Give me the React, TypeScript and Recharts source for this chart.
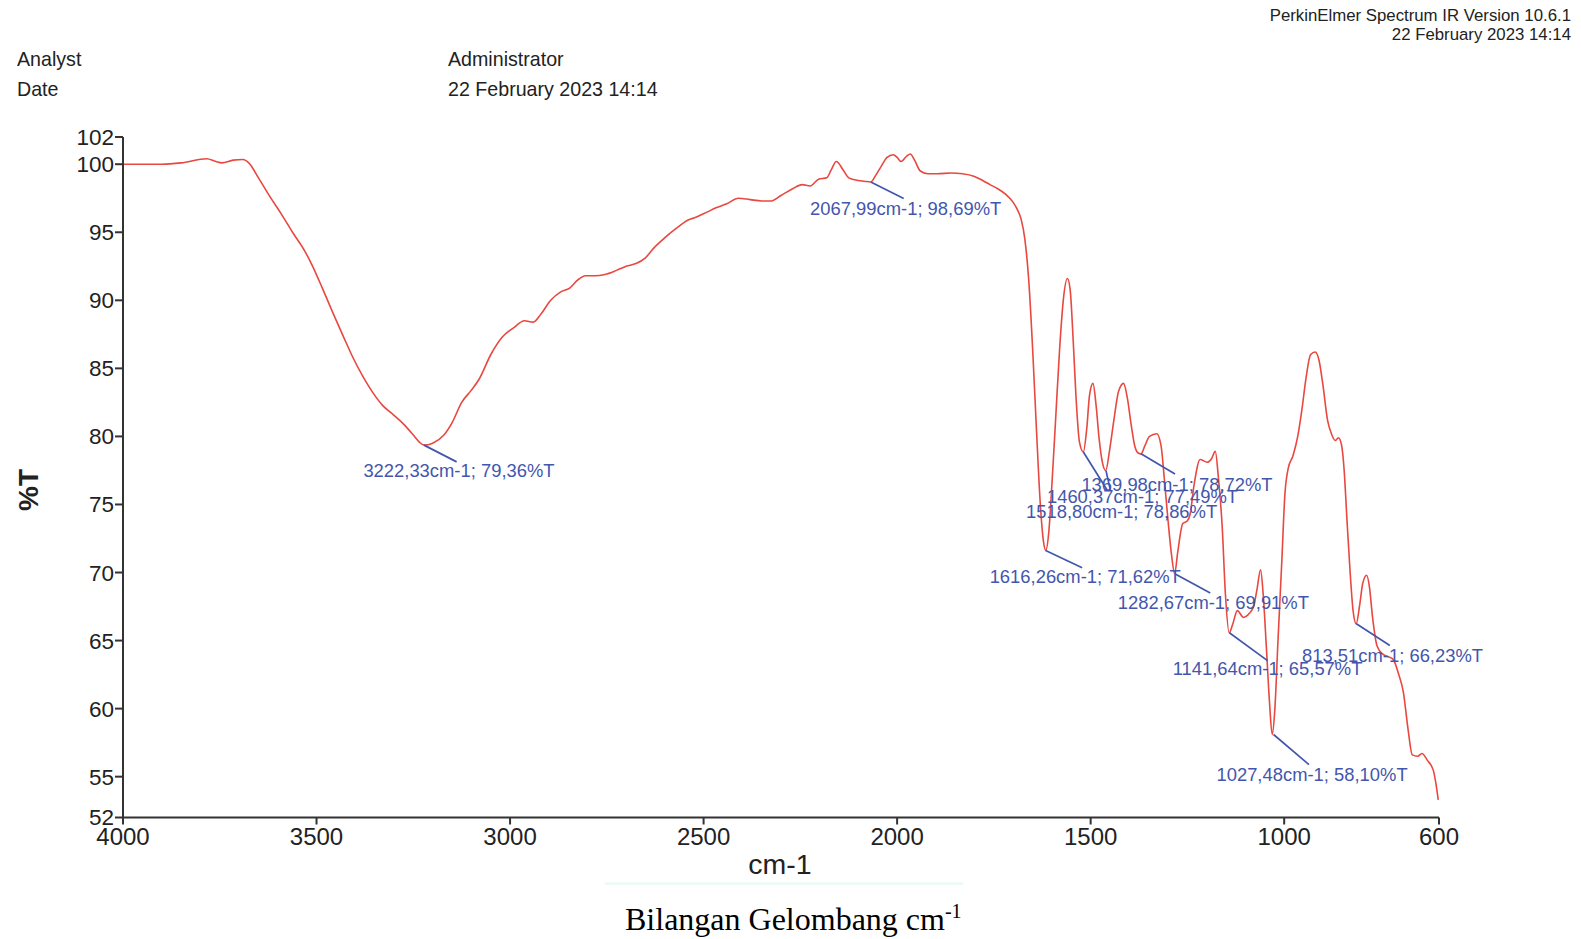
import { LineChart, Line, XAxis, YAxis, ReferenceLine, ReferenceDot } from 'recharts'

const W = 1581
const H = 939

// wavenumber (cm-1) and transmittance (%T)
const wavenumber = [
  4000, 3900, 3850, 3784, 3760, 3745, 3715, 3690, 3675, 3650, 3620, 3590, 3562, 3530, 3510, 3485,
  3458, 3430, 3406, 3380, 3354, 3330, 3302, 3275, 3250, 3235, 3222, 3200, 3171, 3150, 3125, 3100,
  3080, 3050, 3020, 2990, 2963, 2940, 2920, 2895, 2870, 2846, 2825, 2805, 2780, 2755, 2725, 2700,
  2675, 2651, 2630, 2600, 2570, 2540, 2520, 2490, 2468, 2440, 2410, 2380, 2350, 2325, 2300, 2270,
  2245, 2225, 2203, 2182, 2170, 2157, 2140, 2125, 2100, 2085, 2068, 2055, 2040, 2026, 2010, 2000,
  1990, 1975, 1966, 1955, 1940, 1920, 1896, 1860, 1831, 1800, 1779, 1760, 1740, 1720, 1700, 1690,
  1680, 1670, 1660, 1650, 1640, 1630, 1622, 1616, 1608, 1600, 1590, 1580, 1570, 1560, 1553, 1545,
  1538, 1529, 1519, 1510, 1503, 1494, 1486, 1478, 1469, 1461, 1451, 1440, 1428, 1415, 1405, 1396,
  1386, 1378, 1370, 1360, 1348, 1329, 1318, 1310, 1300, 1291, 1283, 1275, 1262, 1250, 1243, 1233,
  1217, 1199, 1187, 1178, 1170, 1160, 1152, 1142, 1133, 1121, 1105, 1090, 1079, 1070, 1061, 1054,
  1046, 1038, 1031, 1024, 1016, 1006, 998, 990, 977, 965, 955, 943, 932, 920, 910, 900, 888, 878,
  868, 860, 852, 845, 838, 830, 822, 814, 805, 797, 787, 780, 772, 760, 745, 730, 718, 705, 692,
  680, 669, 655, 644, 630, 615, 608, 602,
]
const transmittance = [
  100.0, 100.0, 100.1, 100.4, 100.2, 100.1, 100.3, 100.35, 100.1, 99.0, 97.6, 96.3, 95.0, 93.6, 92.5, 90.9,
  89.1, 87.3, 85.8, 84.4, 83.2, 82.3, 81.6, 80.9, 80.1, 79.6, 79.36, 79.5, 80.1, 81.0, 82.5, 83.4,
  84.2, 86.0, 87.3, 88.0, 88.5, 88.4, 89.0, 90.0, 90.6, 90.9, 91.5, 91.8, 91.8, 91.9, 92.2, 92.5,
  92.7, 93.1, 93.8, 94.6, 95.3, 95.9, 96.1, 96.5, 96.8, 97.1, 97.5, 97.4, 97.3, 97.3, 97.7, 98.2,
  98.5, 98.4, 98.9, 99.0, 99.6, 100.2, 99.6, 99.0, 98.8, 98.75, 98.69, 99.2, 99.9, 100.5, 100.7, 100.5,
  100.2, 100.6, 100.75, 100.3, 99.5, 99.3, 99.3, 99.35, 99.3, 99.1, 98.8, 98.5, 98.2, 97.8, 97.2, 96.7,
  96.0, 94.5, 91.5, 86.5, 80.5, 75.0, 72.3, 71.62, 73.0, 76.5, 81.5, 86.5, 90.2, 91.6, 90.8, 87.0,
  83.0, 79.6, 78.86, 80.6, 83.0, 83.9, 82.3, 79.8, 78.0, 77.49, 79.0, 81.2, 83.3, 83.9, 82.8, 81.0,
  79.3, 78.8, 78.72, 79.3, 80.0, 80.2, 79.3, 77.0, 73.8, 71.3, 69.91, 71.5, 73.6, 73.8, 74.3, 76.4,
  78.3, 78.1, 78.4, 78.9, 77.0, 73.3, 68.5, 65.57, 66.2, 67.2, 66.7, 67.0, 67.5, 68.8, 70.2, 68.3,
  64.5, 60.5, 58.1, 60.0, 65.0, 70.9, 75.8, 77.6, 78.6, 80.0, 81.8, 84.4, 86.0, 86.2, 85.6, 83.8, 81.2, 80.2,
  79.7, 79.9, 79.4, 77.5, 74.0, 70.2, 67.2, 66.23, 67.6, 69.2, 69.8, 69.0, 66.8, 64.6, 64.0, 63.8, 63.6, 62.6, 61.2,
  58.5, 56.6, 56.5, 56.7, 56.2, 55.5, 54.5, 53.3,
]

const spectrum = wavenumber.map((x, i) => ({ x, t: transmittance[i] }))

const xTicks = [4000, 3500, 3000, 2500, 2000, 1500, 1000, 600]
const yTicks = [52, 55, 60, 65, 70, 75, 80, 85, 90, 95, 100, 102]

// peak picks: position of the peak, end of leader line, centre of the label
const peakWn = [2067.99, 3222.33, 1369.98, 1460.37, 1518.8, 1616.26, 1282.67, 1141.64, 1027.48, 813.51]
const peakT = [98.69, 79.36, 78.72, 77.49, 78.86, 71.62, 69.91, 65.57, 58.1, 66.23]
const leaderWn = [1983, 3138, 1282, 1449, 1457, 1522, 1191, 1043, 936, 727]
const leaderT = [97.48, 78.13, 77.24, 76.05, 76.05, 70.35, 68.49, 63.53, 55.89, 64.64]
const labelWn = [1978, 3132, 1277, 1366, 1420, 1514, 1183, 1043, 928, 720]
const labelT = [96.74, 77.46, 76.5, 75.6, 74.5, 69.68, 67.83, 62.94, 55.15, 63.9]

const fmt = (v: number) => v.toFixed(2).replace('.', ',')

const BLUE = '#4356ad'
const RED = '#e8483f'
const AXIS = '#333333'
const sans = '"Liberation Sans", Arial, sans-serif'

function PeakLabel(props: { cx?: number, cy?: number, text: string }) {
  const { cx = 0, cy = 0, text } = props
  return (
    <text x={cx} y={cy} textAnchor="middle" dominantBaseline="central" fill={BLUE} fontSize={18.4} fontFamily={sans}>
      {text}
    </text>
  )
}

// header text in the reference is a condensed face, squeeze the regular one
const headerStyle = {
  position: 'absolute' as const,
  top: 44,
  fontSize: 21,
  lineHeight: '30px',
  color: '#222',
  transform: 'scaleX(0.935)',
  transformOrigin: 'left top',
  whiteSpace: 'nowrap' as const,
}

export default function App() {
  return (
    <div style={{ position: 'absolute', left: 0, top: 0, width: W, height: H, background: '#fff', fontFamily: sans }}>
      <div style={{ position: 'absolute', right: 10, top: 6, textAlign: 'right', fontSize: 16.8, lineHeight: '19px', color: '#222' }}>
        <div>PerkinElmer Spectrum IR Version 10.6.1</div>
        <div>22 February 2023 14:14</div>
      </div>
      <div style={{ ...headerStyle, left: 17 }}>
        <div>Analyst</div>
        <div>Date</div>
      </div>
      <div style={{ ...headerStyle, left: 448 }}>
        <div>Administrator</div>
        <div>22 February 2023 14:14</div>
      </div>

      <LineChart width={W} height={H} data={spectrum} margin={{ top: 137, right: 142, bottom: 81.5, left: 63 }}>
        <XAxis
          dataKey="x"
          type="number"
          domain={[600, 4000]}
          reversed
          ticks={xTicks}
          interval={0}
          height={40}
          tick={{ fontSize: 24, fill: '#222', fontFamily: sans }}
          tickSize={7}
          tickMargin={3}
          stroke={AXIS}
          strokeWidth={2}
        />
        <YAxis
          type="number"
          domain={[52, 102]}
          ticks={yTicks}
          interval={0}
          width={60}
          allowDataOverflow
          tick={{ fontSize: 22.5, fill: '#222', fontFamily: sans }}
          tickSize={8}
          tickMargin={1}
          stroke={AXIS}
          strokeWidth={2}
        />
        <Line dataKey="t" type="monotone" stroke={RED} strokeWidth={1.6} dot={false} isAnimationActive={false} />
        {peakWn.map((w, i) => (
          <ReferenceLine
            key={'l' + i}
            segment={[{ x: w, y: peakT[i] }, { x: leaderWn[i], y: leaderT[i] }]}
            stroke={BLUE}
            strokeWidth={1.7}
          />
        ))}
        {peakWn.map((w, i) => (
          <ReferenceDot
            key={'d' + i}
            x={labelWn[i]}
            y={labelT[i]}
            r={0}
            shape={(p: any) => <PeakLabel cx={p.cx} cy={p.cy} text={`${fmt(w)}cm-1; ${fmt(peakT[i])}%T`} />}
          />
        ))}
      </LineChart>

      <div style={{ position: 'absolute', left: 680, width: 200, top: 848, textAlign: 'center', fontSize: 28.5, color: '#222' }}>cm-1</div>
      <div style={{ position: 'absolute', left: 605, width: 358, top: 882, height: 3, background: '#eefaf3' }} />
      <div style={{ position: 'absolute', left: 29, top: 490, transform: 'translate(-50%, -50%) rotate(-90deg)', fontSize: 28, fontWeight: 'bold', color: '#222' }}>%T</div>
      <div style={{ position: 'absolute', left: 625, top: 891, fontFamily: '"Liberation Serif", "Times New Roman", serif', fontSize: 32, lineHeight: '40px', color: '#000', whiteSpace: 'nowrap' }}>
        Bilangan Gelombang cm<sup style={{ fontSize: 20 }}>-1</sup>
      </div>
    </div>
  )
}
